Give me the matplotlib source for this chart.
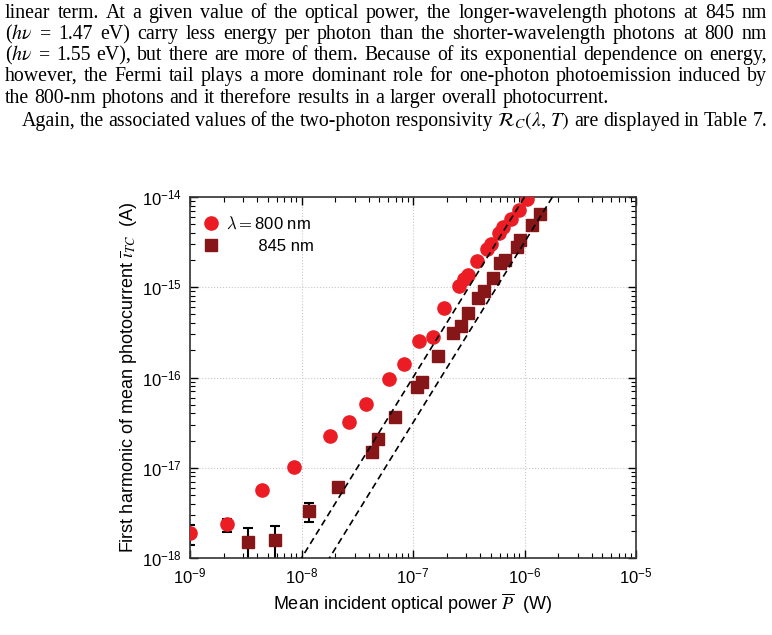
import numpy as np
import matplotlib.pyplot as plt
from matplotlib.ticker import LogLocator, NullFormatter

# lambda = 800 nm
p800 = [1.0e-9, 2.13e-9, 4.4e-9, 8.57e-9, 1.79e-8, 2.65e-8, 3.78e-8, 6.05e-8,
        8.36e-8, 1.14e-7, 1.52e-7, 1.88e-7, 2.60e-7, 2.86e-7, 3.13e-7, 3.78e-7,
        4.58e-7, 4.98e-7, 5.94e-7, 6.37e-7, 7.52e-7, 8.98e-7, 1.06e-6]
i800 = [1.9e-18, 2.37e-18, 5.6e-18, 1.03e-17, 2.22e-17, 3.25e-17, 5.06e-17, 9.57e-17,
        1.42e-16, 2.54e-16, 2.84e-16, 5.94e-16, 1.03e-15, 1.23e-15, 1.37e-15, 1.95e-15,
        2.64e-15, 2.99e-15, 3.96e-15, 4.62e-15, 5.66e-15, 7.18e-15, 9.44e-15]

# lambda = 845 nm
p845 = [3.33e-9, 5.78e-9, 1.17e-8, 2.14e-8, 4.27e-8, 4.86e-8, 6.94e-8, 1.09e-7,
        1.20e-7, 1.69e-7, 2.28e-7, 2.69e-7, 3.13e-7, 3.79e-7, 4.29e-7, 5.27e-7,
        6.03e-7, 6.68e-7, 8.51e-7, 9.12e-7, 1.16e-6, 1.39e-6]
i845 = [1.49e-18, 1.59e-18, 3.30e-18, 6.1e-18, 1.51e-17, 2.10e-17, 3.69e-17, 7.93e-17,
        9.0e-17, 1.73e-16, 3.12e-16, 3.73e-16, 5.24e-16, 7.61e-16, 9.10e-16, 1.28e-15,
        1.87e-15, 2.00e-15, 2.82e-15, 3.34e-15, 4.90e-15, 6.40e-15]

# error bars (low-power points only)
eb800_p = [1.0e-9, 2.13e-9]
eb800_i = [1.9e-18, 2.37e-18]
eb800_lo = [1.40e-18, 1.95e-18]
eb800_hi = [2.33e-18, 2.72e-18]

eb845_p = [3.33e-9, 5.78e-9, 1.17e-8, 2.14e-8]
eb845_i = [1.49e-18, 1.59e-18, 3.30e-18, 6.1e-18]
eb845_lo = [0.8e-18, 0.8e-18, 2.50e-18, 5.4e-18]
eb845_hi = [2.16e-18, 2.29e-18, 4.12e-18, 6.8e-18]

# quadratic guide lines: I = 1e-18 * (P / P0)^2
p0_fits = [1.0e-8, 1.78e-8]

paragraph = [
    ("linear term.  At a given value of the optical power, the longer-wavelength photons at 845 nm", 5, True),
    (r"($h\nu$ = 1.47 eV) carry less energy per photon than the shorter-wavelength photons at 800 nm", 5, True),
    (r"($h\nu$ = 1.55 eV), but there are more of them.  Because of its exponential dependence on energy,", 5, True),
    ("however, the Fermi tail plays a more dominant role for one-photon photoemission induced by", 5, True),
    ("the 800-nm photons and it therefore results in a larger overall photocurrent.", 5, False),
    (r"Again, the associated values of the two-photon responsivity $\mathcal{R}_C(\lambda,\,T)$ are displayed in Table 7.", 22, True),
]
baselines = [18, 39, 60, 81, 103, 126]

W, H = 772, 635
fig = plt.figure(figsize=(W / 100, H / 100), dpi=100)
plt.rcParams['font.family'] = ['Liberation Sans', 'DejaVu Sans']

red = '#ec1c24'
dark = '#861618'

ax = fig.add_axes([190 / W, 1 - 558 / H, (636 - 190) / W, (558 - 197) / H])
ax.set_xscale('log')
ax.set_yscale('log')

ax.errorbar(eb800_p, eb800_i,
            yerr=[np.array(eb800_i) - np.array(eb800_lo), np.array(eb800_hi) - np.array(eb800_i)],
            fmt='none', ecolor='black', elinewidth=1.5, capsize=3.5, capthick=1.5, zorder=2)
ax.errorbar(eb845_p, eb845_i,
            yerr=[np.array(eb845_i) - np.array(eb845_lo), np.array(eb845_hi) - np.array(eb845_i)],
            fmt='none', ecolor='black', elinewidth=1.5, capsize=3.5, capthick=1.5, zorder=2)

ax.plot(p800, i800, 'o', color=red, ms=9.5, mec=red, label=r'$\lambda = $800 nm', zorder=3)
ax.plot(p845, i845, 's', color=dark, ms=8.5, mec=dark, label='       845 nm', zorder=3)

pp = np.logspace(-9, -5, 200)
for p0 in p0_fits:
    ax.plot(pp, 1e-18 * (pp / p0) ** 2, ls=(0, (4, 2.5)), color='black', lw=1.2, zorder=4)

ax.set_xlim(1e-9, 1e-5)
ax.set_ylim(1e-18, 1e-14)
ax.xaxis.set_minor_locator(LogLocator(base=10, subs=np.arange(2, 10), numticks=20))
ax.yaxis.set_minor_locator(LogLocator(base=10, subs=np.arange(2, 10), numticks=20))
ax.xaxis.set_minor_formatter(NullFormatter())
ax.yaxis.set_minor_formatter(NullFormatter())
ax.tick_params(which='both', direction='in', top=True, right=True, labelsize=12, colors='black')
ax.tick_params(which='major', length=6, width=1)
ax.tick_params(which='minor', length=3.5, width=0.8)
ax.tick_params(axis='x', pad=6)
ax.tick_params(axis='y', pad=6)
ax.grid(True, which='major', ls=':', color='#c8c8c8', lw=0.8)
for s in ax.spines.values():
    s.set_color('#333333')
    s.set_linewidth(1.2)

ax.set_xlabel(r'Mean incident optical power $\overline{P}$  (W)', fontsize=13,
              math_fontfamily='stix', labelpad=4)
ax.set_ylabel(r'First harmonic of mean photocurrent $\overline{\imath}_{TC}$  (A)', fontsize=13,
              math_fontfamily='stix', labelpad=1)

leg = ax.legend(loc='upper left', bbox_to_anchor=(0, 0.989), frameon=False, fontsize=12,
                handlelength=0.8, handletextpad=0.5, borderaxespad=0.5, labelspacing=0.45,
                borderpad=0.35)
for t in leg.get_texts():
    t.set_math_fontfamily('cm')


def put_line(text, y, x0, x1, justify, size=14.3):
    # lay out one justified line of the paragraph word by word
    r = fig.canvas.get_renderer()
    words = text.split()
    objs = [fig.text(0, 1 - y / H, w, fontsize=size, family='Liberation Serif',
                     math_fontfamily='stix', va='baseline')
            for w in words]
    widths = [o.get_window_extent(r).width for o in objs]
    if justify and len(words) > 1:
        gap = (x1 - x0 - sum(widths)) / (len(words) - 1)
    else:
        gap = size * 100 / 72 * 0.27
    x = x0
    for o, w in zip(objs, widths):
        o.set_x(x / W)
        x += w + gap


for (txt, x0, just), yb in zip(paragraph, baselines):
    put_line(txt, yb, x0, 767, just)

fig.savefig('out.png', dpi=100)
